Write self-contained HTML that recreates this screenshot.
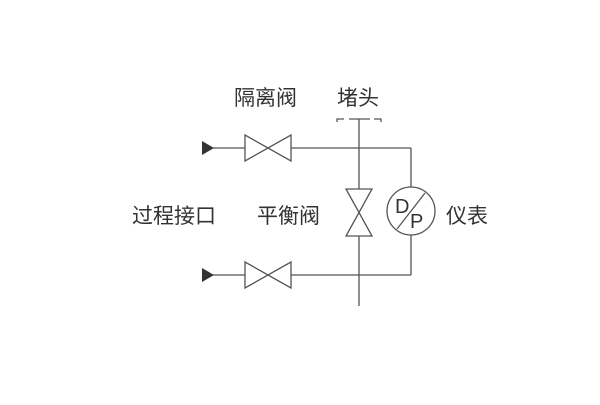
<!DOCTYPE html>
<html><head><meta charset="utf-8"><style>
body{margin:0;background:#fff;width:600px;height:400px;overflow:hidden}
svg text{font-family:"Liberation Sans","Noto Sans CJK SC",sans-serif;font-size:21px;fill:#333}
</style></head><body>
<svg width="600" height="400" viewBox="0 0 600 400" xmlns="http://www.w3.org/2000/svg">
<g stroke="#555" stroke-width="1.3" fill="none">
<line x1="213" y1="148" x2="245" y2="148"/>
<line x1="291" y1="148" x2="411" y2="148"/>
<line x1="213" y1="275" x2="245" y2="275"/>
<line x1="291" y1="275" x2="411" y2="275"/>
<polygon points="245,135 245,161 291,135 291,161" fill="#fff"/>
<polygon points="245,262 245,288 291,262 291,288" fill="#fff"/>
<line x1="359" y1="119" x2="359" y2="189"/>
<line x1="359" y1="236" x2="359" y2="306"/>
<polygon points="346,189 372,189 346,236 372,236" fill="#fff"/>
<line x1="411" y1="148" x2="411" y2="187"/>
<line x1="411" y1="235" x2="411" y2="275"/>
<circle cx="411" cy="211" r="24" fill="#fff"/>
<line x1="397" y1="229" x2="425" y2="193"/>
<polyline points="337,122 337,119 344,119"/>
<line x1="349" y1="119" x2="370" y2="119"/>
<polyline points="374,119 381,119 381,122"/>
</g>
<polygon points="202,141 214,148 202,155" fill="#333"/>
<polygon points="202,268 214,275 202,282" fill="#333"/>
<text x="395" y="213" style="font-size:20px">D</text>
<text x="410" y="228" style="font-size:20px">P</text>
<text x="234" y="105">隔离阀</text>
<text x="337" y="105">堵头</text>
<text x="132" y="223">过程接口</text>
<text x="257" y="223">平衡阀</text>
<text x="446" y="223">仪表</text>
</svg>
</body></html>
